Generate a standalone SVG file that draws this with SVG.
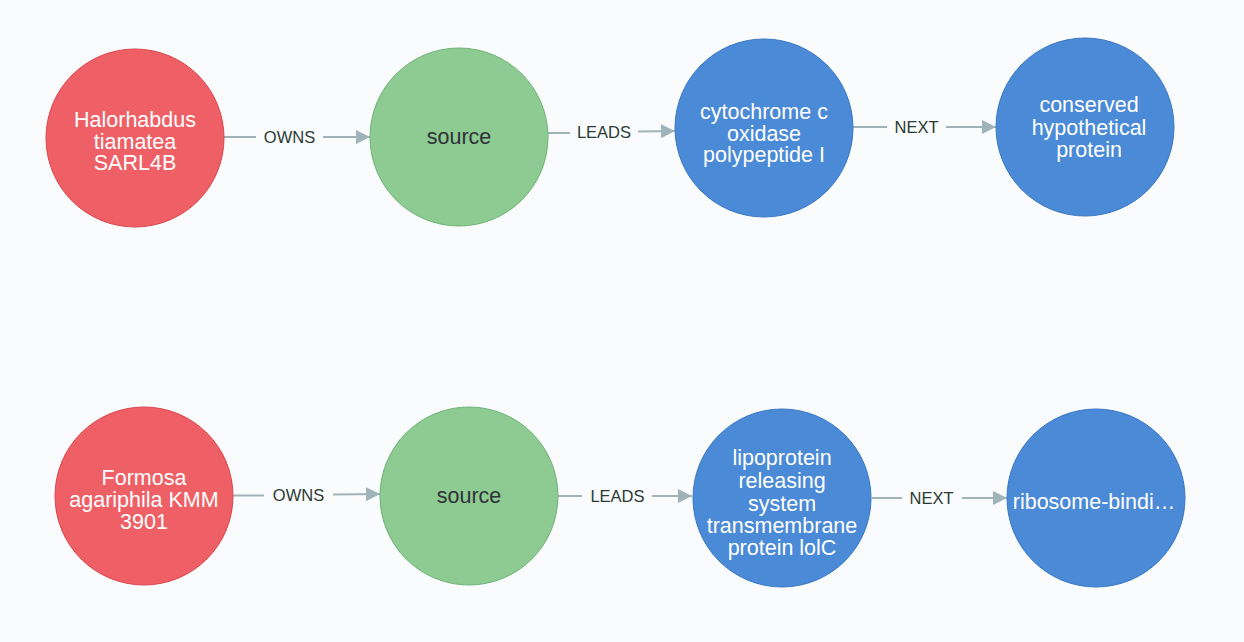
<svg xmlns="http://www.w3.org/2000/svg" width="1244" height="642" viewBox="0 0 1244 642">
<style>
.red{fill:#ee6066;stroke:#d9474d;stroke-width:1}
.green{fill:#8dcb92;stroke:#6fb375;stroke-width:1}
.blue{fill:#4a8ad6;stroke:#3a78c2;stroke-width:1}
.nt{font-family:"Liberation Sans",Arial,sans-serif;font-size:21.5px;fill:#ffffff;text-anchor:middle;dominant-baseline:central}
.dt{fill:#2f3238}
.lbl{font-family:"Liberation Sans",Arial,sans-serif;font-size:16.5px;fill:#2b3a33;text-anchor:middle;dominant-baseline:central}
.ln{stroke:#a2b3b8;stroke-width:2;fill:none}
</style>
<defs>
<marker id="arr" markerUnits="userSpaceOnUse" markerWidth="16" markerHeight="14" refX="14" refY="7" orient="auto">
<path d="M0,0 L14,7 L0,14 Z" fill="#9fb3b8"/>
</marker>
</defs>
<rect width="1244" height="642" fill="#f9fbfd"/>
<g id="connectors">
<path class="ln" d="M224,137 L256,137"/>
<path class="ln" d="M323,137 L370,137" marker-end="url(#arr)"/>
<text class="lbl" x="289.5" y="137">OWNS</text>
<path class="ln" d="M548,133 L570,133"/>
<path class="ln" d="M638,131.5 L675,131" marker-end="url(#arr)"/>
<text class="lbl" x="604" y="132">LEADS</text>
<path class="ln" d="M853,127 L887,127"/>
<path class="ln" d="M946,127 L996,127" marker-end="url(#arr)"/>
<text class="lbl" x="916.5" y="127">NEXT</text>
<path class="ln" d="M233,495.5 L264,495.5"/>
<path class="ln" d="M333,494.5 L380,494" marker-end="url(#arr)"/>
<text class="lbl" x="298.5" y="495">OWNS</text>
<path class="ln" d="M558,496 L582,496"/>
<path class="ln" d="M652,496 L692,496" marker-end="url(#arr)"/>
<text class="lbl" x="617.5" y="496">LEADS</text>
<path class="ln" d="M872,498 L902,498"/>
<path class="ln" d="M962,498 L1007,498" marker-end="url(#arr)"/>
<text class="lbl" x="931.5" y="498">NEXT</text>
</g>
<g id="n1">
<circle class="red" cx="135" cy="138" r="89"/>
<text class="nt" x="135" y="120">Halorhabdus</text>
<text class="nt" x="135" y="141.5">tiamatea</text>
<text class="nt" x="135" y="163">SARL4B</text>
</g>
<g id="n2">
<circle class="green" cx="459" cy="137" r="89"/>
<text class="nt dt" x="459" y="137">source</text>
</g>
<g id="n3">
<circle class="blue" cx="764" cy="128" r="89"/>
<text class="nt" x="764" y="112">cytochrome c</text>
<text class="nt" x="764" y="133.5">oxidase</text>
<text class="nt" x="764" y="155">polypeptide I</text>
</g>
<g id="n4">
<circle class="blue" cx="1085" cy="127" r="89"/>
<text class="nt" x="1089" y="105">conserved</text>
<text class="nt" x="1089" y="127.5">hypothetical</text>
<text class="nt" x="1089" y="150">protein</text>
</g>
<g id="n5">
<circle class="red" cx="144" cy="496" r="89"/>
<text class="nt" x="144" y="478">Formosa</text>
<text class="nt" x="144" y="500">agariphila KMM</text>
<text class="nt" x="144" y="522">3901</text>
</g>
<g id="n6">
<circle class="green" cx="469" cy="496" r="89"/>
<text class="nt dt" x="469" y="496">source</text>
</g>
<g id="n7">
<circle class="blue" cx="782" cy="498" r="89"/>
<text class="nt" x="782" y="458">lipoprotein</text>
<text class="nt" x="782" y="481">releasing</text>
<text class="nt" x="782" y="503.5">system</text>
<text class="nt" x="782" y="526">transmembrane</text>
<text class="nt" x="782" y="548">protein lolC</text>
</g>
<g id="n8">
<circle class="blue" cx="1096" cy="498" r="89"/>
<text class="nt" x="1094" y="502">ribosome-bindi…</text>
</g>
</svg>
